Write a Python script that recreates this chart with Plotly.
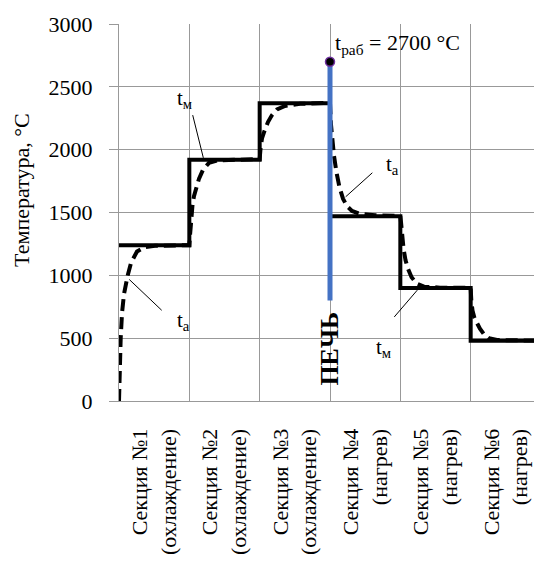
import plotly.graph_objects as go

# ---- data ----
sections = ["Секция №1<br>(охлаждение)", "Секция №2<br>(охлаждение)", "Секция №3<br>(охлаждение)",
            "Секция №4<br>(нагрев)", "Секция №5<br>(нагрев)", "Секция №6<br>(нагрев)"]
t_m = [1240, 1920, 2370, 1470, 900, 480]          # material temperature per section (step)
section_edges = [0, 1, 2, 3, 4, 5, 6]

# gas (t_a) temperature profile, x in section units
t_a_x = [0, 0.004, 0.024, 0.043, 0.071, 0.124, 0.171, 0.256, 0.370, 0.512, 0.995,
         1.0, 1.01, 1.024, 1.045, 1.066, 1.102, 1.138, 1.195, 1.280, 1.408, 1.65, 1.997,
         2.0, 2.011, 2.033, 2.066, 2.118, 2.175, 2.247, 2.360, 2.573, 2.993,
         3.0, 3.014, 3.036, 3.057, 3.092, 3.135, 3.185, 3.242, 3.313, 3.426, 3.64, 3.995,
         4.0, 4.01, 4.024, 4.046, 4.074, 4.11, 4.16, 4.231, 4.337, 4.564, 4.99,
         5.0, 5.009, 5.026, 5.054, 5.09, 5.132, 5.19, 5.26, 5.374, 5.63, 6.0]
t_a_y = [0, 200, 500, 700, 850, 1000, 1100, 1190, 1225, 1235, 1240,
         1240, 1320, 1450, 1560, 1630, 1710, 1770, 1840, 1895, 1915, 1922, 1925,
         1925, 2000, 2090, 2145, 2220, 2275, 2320, 2348, 2365, 2372,
         2372, 2200, 2050, 1950, 1820, 1700, 1610, 1550, 1512, 1490, 1478, 1473,
         1473, 1420, 1320, 1210, 1120, 1050, 985, 935, 910, 902, 900,
         900, 800, 720, 660, 615, 575, 530, 500, 485, 480, 480]

furnace_x = 3
furnace_bottom = 800
t_work = 2700

y_ticks = [0, 500, 1000, 1500, 2000, 2500, 3000]

FONT = "Liberation Serif, Times New Roman, serif"
GRID = "#999999"

fig = go.Figure()

fig.add_trace(go.Scatter(x=t_a_x, y=t_a_y, mode="lines",
                         line=dict(color="black", width=4, dash="12px,6px"),
                         hoverinfo="skip", showlegend=False))
fig.add_trace(go.Scatter(x=section_edges, y=t_m + [t_m[-1]], mode="lines",
                         line=dict(color="black", width=4, shape="hv"),
                         showlegend=False))
fig.add_trace(go.Scatter(x=[furnace_x, furnace_x], y=[furnace_bottom, t_work], mode="lines",
                         line=dict(color="#4472C4", width=5), showlegend=False))
fig.add_trace(go.Scatter(x=[furnace_x], y=[t_work], mode="markers",
                         marker=dict(size=9, color="black", line=dict(color="#7030A0", width=1.5)),
                         showlegend=False))

# leader lines for labels
leaders = [((1.048, 2275), (1.199, 1935)),
           ((3.602, 1816), (3.223, 1625)),
           ((0.146, 967), (0.607, 722)),
           ((3.914, 669), (4.241, 882))]
for (x0, y0), (x1, y1) in leaders:
    fig.add_shape(type="line", x0=x0, y0=y0, x1=x1, y1=y1, xref="x", yref="y",
                  line=dict(color="black", width=1))

labels = [(0.938, 2400, "t<sub>м</sub>"), (3.889, 1881, "t<sub>a</sub>"),
          (0.914, 639, "t<sub>a</sub>"), (3.761, 420, "t<sub>м</sub>")]
for x, y, txt in labels:
    fig.add_annotation(x=x, y=y, text=txt, showarrow=False,
                       font=dict(family=FONT, size=21, color="black"))

fig.add_annotation(x=furnace_x, y=t_work, text="t<sub>раб</sub> = 2700 °C", showarrow=False,
                   xanchor="left", yanchor="bottom", xshift=3, yshift=2,
                   font=dict(family=FONT, size=22, color="black"))
fig.add_annotation(x=furnace_x, y=417, text="<b>ПЕЧЬ</b>", showarrow=False, textangle=-90,
                   font=dict(family=FONT, size=26, color="black"))
fig.add_annotation(xref="paper", yref="paper", x=0, y=0.56, xshift=-97, xanchor="center",
                   yanchor="middle", text="Температура, °C",
                   showarrow=False, textangle=-90,
                   font=dict(family=FONT, size=22, color="black"))

# page body has an 8px default margin: figure is sized to fit the 542x568 window
fig.update_layout(
    width=534, height=560,
    margin=dict(l=111, r=1, t=16, b=167),
    paper_bgcolor="white", plot_bgcolor="white",
    font=dict(family=FONT, size=22, color="black"),
    xaxis=dict(range=[0, 6], tickmode="array", tickvals=[0.5, 1.5, 2.5, 3.5, 4.5, 5.5],
               ticktext=sections, tickangle=-90, showgrid=False, zeroline=False,
               showline=True, linecolor=GRID, linewidth=1, ticks="",
               ticklabelstandoff=18,
               tickfont=dict(family=FONT, size=22, color="black"),
               minor=dict(tickmode="array", tickvals=section_edges, showgrid=True,
                          gridcolor=GRID, gridwidth=1, ticks="")),
    yaxis=dict(range=[0, 3000], tickmode="array", tickvals=y_ticks, showgrid=True,
               gridcolor=GRID, gridwidth=1, zeroline=False, showline=True,
               linecolor=GRID, linewidth=1, ticks="outside", ticklen=9, tickcolor=GRID,
               ticklabelstandoff=12,
               tickfont=dict(family=FONT, size=22, color="black")),
)

fig.write_html("out.html")
